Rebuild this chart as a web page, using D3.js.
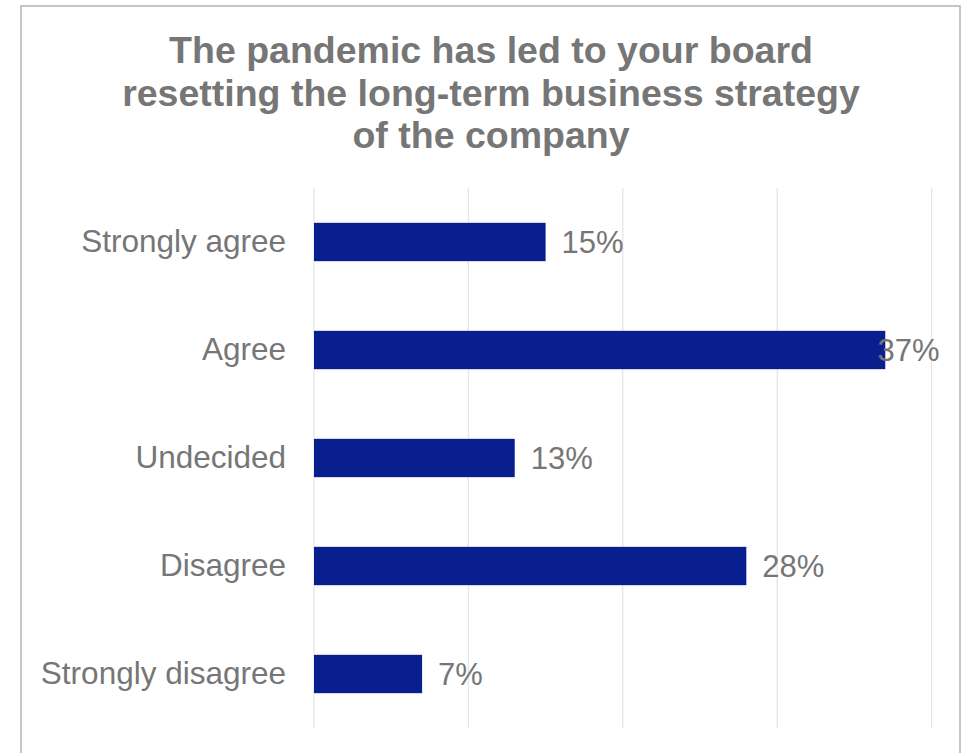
<!DOCTYPE html>
<html>
<head>
<meta charset="utf-8">
<script src="https://cdn.jsdelivr.net/npm/d3@7"></script>
<style>
  html, body { margin: 0; padding: 0; background: #fff; }
  svg { display: block; }
  text { font-family: "Liberation Sans", Arial, sans-serif; }
</style>
</head>
<body>
<svg id="chart" width="966" height="753"></svg>
<script>
// Survey responses
const categories = ["Strongly agree", "Agree", "Undecided", "Disagree", "Strongly disagree"];
const values = [15, 37, 13, 28, 7];
const xTicks = [0, 10, 20, 30, 40];
const titleLines = [
  "The pandemic has led to your board",
  "resetting the long-term business strategy",
  "of the company"
];

const W = 966, H = 753;
const margin = { top: 188, right: 35, bottom: 25, left: 314 };
const plotH = H - margin.top - margin.bottom;

const svg = d3.select("#chart");
const textColor = "#767676";

// Chart frame
svg.append("rect")
  .attr("x", 21).attr("y", 6)
  .attr("width", 939).attr("height", 760)
  .attr("fill", "#fff")
  .attr("stroke", "#b3b3b3")
  .attr("stroke-width", 1.5);

// Title
svg.append("text")
  .attr("x", 491).attr("y", 63)
  .attr("text-anchor", "middle")
  .attr("fill", textColor)
  .attr("font-size", 37.5)
  .attr("font-weight", "bold")
  .selectAll("tspan")
  .data(titleLines)
  .join("tspan")
  .attr("x", 491)
  .attr("dy", (d, i) => i === 0 ? 0 : 42.5)
  .text(d => d);

const g = svg.append("g").attr("transform", `translate(${margin.left},${margin.top})`);

const x = d3.scaleLinear().domain([0, 40]).range([0, 617.6]);
const y = d3.scaleBand().domain(categories).range([0, plotH]).paddingInner(0.645).paddingOuter(0.3225);

// Vertical gridlines
g.append("g")
  .selectAll("line")
  .data(xTicks)
  .join("line")
  .attr("x1", d => x(d)).attr("x2", d => x(d))
  .attr("y1", 0).attr("y2", plotH)
  .attr("stroke", "#e6e6e6")
  .attr("stroke-width", 1.3);

// Category axis labels
const yAxis = d3.axisLeft(y).tickSize(0).tickPadding(28);
const ya = g.append("g").call(yAxis);
ya.select(".domain").remove();
ya.selectAll("text")
  .attr("fill", textColor)
  .attr("font-size", 31.5)
  .attr("font-family", "'Liberation Sans', Arial, sans-serif");

// Bars
g.selectAll("rect.bar")
  .data(values)
  .join("rect")
  .attr("class", "bar")
  .attr("x", x(0))
  .attr("y", (d, i) => y(categories[i]))
  .attr("width", d => x(d) - x(0))
  .attr("height", y.bandwidth())
  .attr("fill", "#0a1f8f");

// Value labels, kept inside the plot's right edge
const maxRight = x(40) + 8;
g.selectAll("text.val")
  .data(values)
  .join("text")
  .attr("class", "val")
  .attr("y", (d, i) => y(categories[i]) + y.bandwidth() / 2)
  .attr("dy", "0.35em")
  .attr("fill", textColor)
  .attr("font-size", 31)
  .text(d => d + "%")
  .each(function(d) {
    const w = this.getComputedTextLength();
    const px = Math.min(x(d) + 16, maxRight - w);
    d3.select(this).attr("x", px);
  });
</script>
</body>
</html>
